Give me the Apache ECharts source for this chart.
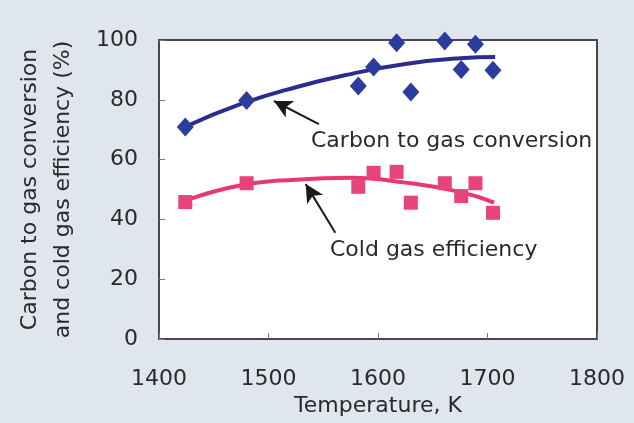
<!DOCTYPE html>
<html>
<head>
<meta charset="utf-8">
<script src="https://cdn.jsdelivr.net/npm/echarts@6/dist/echarts.min.js"></script>
<style>
html,body{margin:0;padding:0;background:#dfe6ee;}
#c{width:634px;height:423px;}
</style>
</head>
<body>
<div id="c"></div>
<script>
// Data
const convTemp = [1424, 1480, 1582, 1596, 1617, 1630, 1661, 1676, 1689, 1705];
const convValue = [70.9, 79.8, 84.6, 91.0, 99.1, 82.6, 99.7, 90.1, 98.6, 89.9];
const effTemp = [1424, 1480, 1582, 1596, 1617, 1630, 1661, 1676, 1689, 1705];
const effValue = [45.8, 52.1, 50.9, 55.6, 55.9, 45.6, 52.1, 47.8, 52.1, 42.2];
// Trend curves
const convCurveT = [1424, 1475, 1525, 1575, 1625, 1675, 1707];
const convCurveV = [71.0, 78.6, 84.2, 88.6, 92.0, 93.9, 94.3];
const effCurveT = [1426, 1475, 1525, 1575, 1625, 1675, 1706];
const effCurveV = [46.5, 51.4, 53.3, 53.9, 52.3, 49.2, 45.6];
const xTicks = [1400, 1500, 1600, 1700, 1800];
const yTicks = [0, 20, 40, 60, 80, 100];
// annotation arrows (tail -> head) in data units
const convArrow = [[1546, 71.9], [1505, 79.6]];
const effArrow = [[1561, 35.5], [1534, 51.8]];
const convLabel = 'Carbon to gas conversion';
const effLabel = 'Cold gas efficiency';
const xName = 'Temperature, K';
const yName = 'Carbon to gas conversion\nand cold gas efficiency (%)';

const zip = (a, b) => a.map((v, i) => [v, b[i]]);
const FONT = 'DejaVu Sans';
const chart = echarts.init(document.getElementById('c'));
chart.setOption({
  backgroundColor: '#dfe6ee',
  animation: false,
  textStyle: {fontFamily: FONT},
  grid: {left: 159, top: 40, right: 37, bottom: 84, containLabel: false, outerBoundsMode: 'none',
    show: true, backgroundColor: '#ffffff', borderColor: '#4a4458', borderWidth: 2},
  xAxis: {
    type: 'value', min: xTicks[0], max: xTicks[xTicks.length - 1], interval: 100,
    name: xName, nameLocation: 'middle', nameGap: 47,
    nameTextStyle: {fontSize: 22, color: '#2a2a2a', fontFamily: FONT},
    axisLine: {show: false},
    axisTick: {show: true, inside: true, length: 6, lineStyle: {color: '#7a7388', width: 1}},
    axisLabel: {fontSize: 22, color: '#2a2a2a', margin: 29, fontFamily: FONT, formatter: v => String(v)},
    splitLine: {show: false}
  },
  yAxis: {
    type: 'value', min: yTicks[0], max: yTicks[yTicks.length - 1], interval: 20,
    name: yName, nameLocation: 'middle', nameGap: 79, nameRotate: 90,
    nameTextStyle: {fontSize: 22, color: '#2a2a2a', lineHeight: 33, fontFamily: FONT},
    axisLine: {show: false},
    axisTick: {show: true, inside: true, length: 6, lineStyle: {color: '#7a7388', width: 1}},
    axisLabel: {fontSize: 22, color: '#2a2a2a', margin: 21, fontFamily: FONT, padding: [5, 0, 0, 0], formatter: v => String(v)},
    splitLine: {show: false}
  },
  series: [
    {
      type: 'line', data: zip(convCurveT, convCurveV), smooth: 0.5, symbol: 'none',
      lineStyle: {color: '#2b2d8e', width: 4}, z: 2,
      markLine: {
        silent: true, symbol: ['none', 'arrow'], symbolSize: [14, 18],
        lineStyle: {color: '#1a1a1a', width: 2, type: 'solid'}, label: {show: false},
        data: [[{coord: convArrow[0]}, {coord: convArrow[1]}], [{coord: effArrow[0]}, {coord: effArrow[1]}]]
      }
    },
    {
      type: 'line', data: zip(effCurveT, effCurveV), smooth: 0.5, symbol: 'none',
      lineStyle: {color: '#e8386e', width: 4}, z: 2
    },
    {
      type: 'scatter', data: zip(convTemp, convValue), symbol: 'diamond', symbolSize: [17, 19],
      itemStyle: {color: '#2b3c9e', opacity: 1}, z: 3
    },
    {
      type: 'scatter', data: zip(effTemp, effValue), symbol: 'rect', symbolSize: 14,
      itemStyle: {color: '#e6447a', opacity: 1}, z: 3
    }
  ],
  graphic: [
    {type: 'text', left: 311, top: 130, style: {text: convLabel, font: '22px "DejaVu Sans"', fill: '#2a2a2a'}},
    {type: 'text', left: 330, top: 239, style: {text: effLabel, font: '22px "DejaVu Sans"', fill: '#2a2a2a'}}
  ]
});
</script>
</body>
</html>
